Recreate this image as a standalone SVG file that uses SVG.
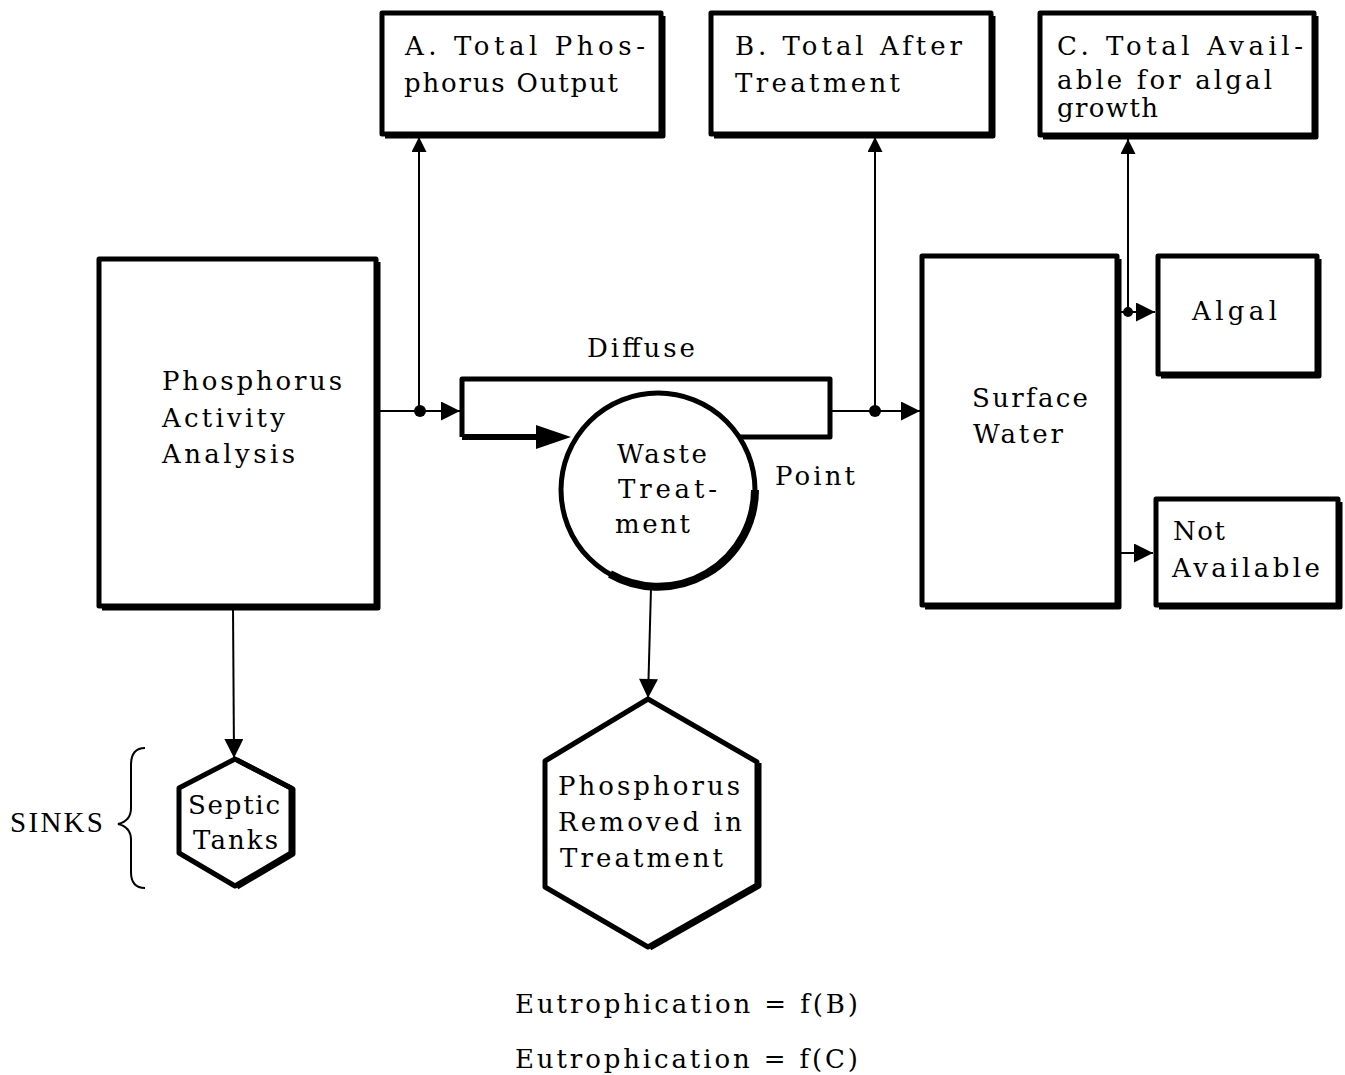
<svg xmlns="http://www.w3.org/2000/svg" width="1345" height="1075" viewBox="0 0 1345 1075">
<style>
.box{fill:#fff;stroke:#000;stroke-width:5;stroke-linejoin:round}
.sh{fill:none;stroke:#000;stroke-width:5;stroke-linejoin:round}
.ln{fill:none;stroke:#000;stroke-width:2}
.t{font-family:"DejaVu Serif",serif;font-size:26px;fill:#000}
.e{font-family:"DejaVu Serif",serif;font-size:26px;fill:#000}
.s{font-family:"Liberation Serif",serif;font-size:29px;fill:#000}
</style>
<defs>
<marker id="ah" viewBox="0 0 10 10" refX="10" refY="5" markerWidth="30" markerHeight="19" markerUnits="userSpaceOnUse" orient="auto">
<path d="M0,0 L10,5 L0,10 Z" fill="#000"/>
</marker>
<marker id="ahS" viewBox="0 0 10 10" refX="10" refY="5" markerWidth="22" markerHeight="15" markerUnits="userSpaceOnUse" orient="auto">
<path d="M0,0 L10,5 L0,10 Z" fill="#000"/>
</marker>
</defs>
<rect width="1345" height="1075" fill="#fff"/>
<g id="connectors">
<line class="ln" x1="377" y1="411" x2="460" y2="411" marker-end="url(#ah)"/>
<line class="ln" x1="419" y1="411" x2="419" y2="137" marker-end="url(#ahS)"/>
<circle cx="420" cy="411" r="6"/>
<line class="ln" x1="832" y1="411" x2="920" y2="411" marker-end="url(#ah)"/>
<line class="ln" x1="875" y1="411" x2="875" y2="137" marker-end="url(#ahS)"/>
<circle cx="875" cy="411" r="6"/>
<line class="ln" x1="1118" y1="312" x2="1155" y2="312" marker-end="url(#ah)"/>
<line class="ln" x1="1128" y1="312" x2="1128" y2="139" marker-end="url(#ahS)"/>
<circle cx="1128" cy="312" r="5"/>
<line class="ln" x1="1118" y1="553" x2="1153" y2="553" marker-end="url(#ah)"/>
<line class="ln" x1="233" y1="607" x2="234" y2="758" marker-end="url(#ah)"/>
<line class="ln" x1="651" y1="588" x2="648" y2="698" marker-end="url(#ah)"/>
<path d="M145,748 Q131,748 131,765 L131,808 Q131,821 118,824 Q131,827 131,840 L131,872 Q131,888 145,888" class="ln"/>
</g>
<g id="activity">
<rect class="box" x="99" y="259" width="277" height="347"/>
<polyline class="sh" points="378,262 378,608 102,608"/>
<text class="t" x="162" y="390" textLength="180" lengthAdjust="spacing">Phosphorus</text>
<text class="t" x="162" y="427" textLength="123" lengthAdjust="spacing">Activity</text>
<text class="t" x="162" y="463" textLength="133" lengthAdjust="spacing">Analysis</text>
</g>
<g id="diffuse">
<path d="M462,437 L462,379 L830,379 L830,437 L740,437" class="sh"/>
<line x1="462" y1="437" x2="545" y2="437" stroke="#000" stroke-width="6"/>
<path d="M536,425 L571,437 L536,449 Z" fill="#000"/>
<text class="t" x="587" y="357" textLength="108" lengthAdjust="spacing">Diffuse</text>
<text class="t" x="775" y="485" textLength="80" lengthAdjust="spacing">Point</text>
</g>
<g id="waste">
<circle class="box" cx="658" cy="490" r="97"/>
<path d="M755,490 A97,97 0 0 1 610,574" fill="none" stroke="#000" stroke-width="8"/>
<text class="t" x="617" y="463" textLength="90" lengthAdjust="spacing">Waste</text>
<text class="t" x="618" y="498" textLength="99" lengthAdjust="spacing">Treat-</text>
<text class="t" x="615" y="533" textLength="75" lengthAdjust="spacing">ment</text>
</g>
<g id="boxA">
<rect class="box" x="382" y="13" width="279" height="121"/>
<polyline class="sh" points="663,16 663,136 385,136"/>
<text class="t" x="405" y="55" textLength="240" lengthAdjust="spacing">A. Total Phos-</text>
<text class="t" x="404" y="92" textLength="214" lengthAdjust="spacing">phorus Output</text>
</g>
<g id="boxB">
<rect class="box" x="711" y="13" width="280" height="121"/>
<polyline class="sh" points="993,16 993,136 714,136"/>
<text class="t" x="735" y="55" textLength="227" lengthAdjust="spacing">B. Total After</text>
<text class="t" x="735" y="92" textLength="165" lengthAdjust="spacing">Treatment</text>
</g>
<g id="boxC">
<rect class="box" x="1040" y="13" width="274" height="122"/>
<polyline class="sh" points="1316,16 1316,137 1043,137"/>
<text class="t" x="1057" y="55" textLength="246" lengthAdjust="spacing">C. Total Avail-</text>
<text class="t" x="1057" y="89" textLength="215" lengthAdjust="spacing">able for algal</text>
<text class="t" x="1057" y="117" textLength="101" lengthAdjust="spacing">growth</text>
</g>
<g id="surface">
<rect class="box" x="922" y="256" width="195" height="349"/>
<polyline class="sh" points="1119,259 1119,607 925,607"/>
<text class="t" x="972" y="407" textLength="116" lengthAdjust="spacing">Surface</text>
<text class="t" x="973" y="443" textLength="90" lengthAdjust="spacing">Water</text>
</g>
<g id="algal">
<rect class="box" x="1158" y="256" width="159" height="118"/>
<polyline class="sh" points="1319,259 1319,376 1161,376"/>
<text class="t" x="1192" y="320" textLength="85" lengthAdjust="spacing">Algal</text>
</g>
<g id="notavail">
<rect class="box" x="1156" y="499" width="182" height="106"/>
<polyline class="sh" points="1340,502 1340,607 1159,607"/>
<text class="t" x="1173" y="540" textLength="52" lengthAdjust="spacing">Not</text>
<text class="t" x="1172" y="577" textLength="148" lengthAdjust="spacing">Available</text>
</g>
<g id="septic">
<polygon class="box" points="235,759 291,788 291,853 235,886 179,853 179,788"/>
<polyline class="sh" points="237,760 293,789 293,854 237,887" stroke-width="6"/>
<text class="t" x="188" y="814" textLength="92" lengthAdjust="spacing">Septic</text>
<text class="t" x="193" y="849" textLength="85" lengthAdjust="spacing">Tanks</text>
</g>
<g id="removed">
<polygon class="box" points="648,699 757,762 757,885 648,947 545,887 545,761"/>
<polyline class="sh" points="759,763 759,886 650,948" stroke-width="6"/>
<text class="t" x="558" y="795" textLength="182" lengthAdjust="spacing">Phosphorus</text>
<text class="t" x="558" y="831" textLength="184" lengthAdjust="spacing">Removed in</text>
<text class="t" x="560" y="867" textLength="163" lengthAdjust="spacing">Treatment</text>
</g>
<g id="labels">
<text class="s" x="10" y="832" textLength="93" lengthAdjust="spacing">SINKS</text>
<text class="e" x="515" y="1013" textLength="343" lengthAdjust="spacing">Eutrophication = f(B)</text>
<text class="e" x="515" y="1068" textLength="343" lengthAdjust="spacing">Eutrophication = f(C)</text>
</g>
</svg>
